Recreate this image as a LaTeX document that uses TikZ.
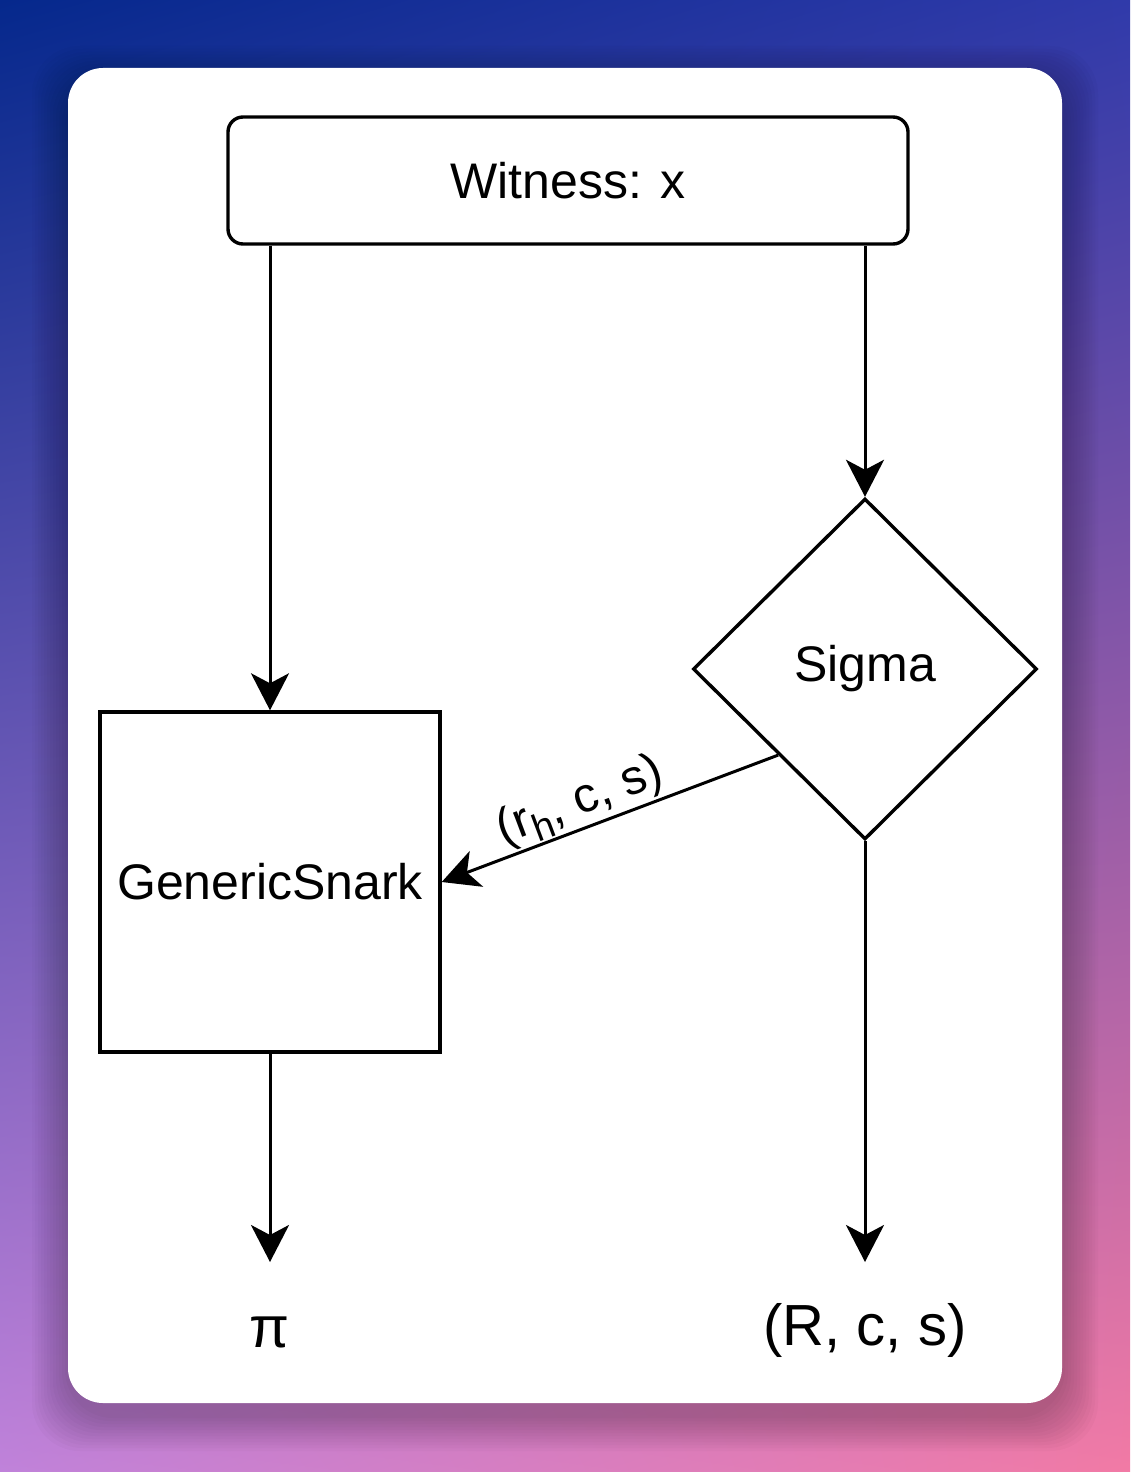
\documentclass[tikz,border=0pt]{standalone}
\usepackage{fontspec}
\setmainfont{Liberation Sans}
\usetikzlibrary{shapes.geometric,arrows.meta,calc,shadings}
\definecolor{bgTL}{RGB}{5,40,140}
\definecolor{bgTR}{RGB}{48,58,170}
\definecolor{bgBL}{RGB}{192,130,218}
\definecolor{bgBR}{RGB}{242,122,165}
\begin{document}
\begin{tikzpicture}[x=1pt,y=-1pt,
  box/.style={draw=black, line width=3.4pt, fill=white, inner sep=0pt},
  arr/.style={draw=black, line width=3pt, -{Stealth[length=37pt,width=38pt,inset=10pt]}},
  lbl/.style={font=\fontsize{50}{60}\selectfont},
  lblbig/.style={font=\fontsize{58}{68}\selectfont},
  lblsmall/.style={font=\fontsize{49}{56}\selectfont, inner sep=1pt}]
\useasboundingbox (0,0) rectangle (1130,1472);
\shade[upper left=bgTL, upper right=bgTR, lower left=bgBL, lower right=bgBR] (0,0) rectangle (1130,1472);
\foreach \e in {3,6,...,36}
  \fill[black, opacity=0.02, rounded corners=48pt] (68-\e,82-\e) rectangle (1062+\e,1415+\e);
\fill[white, rounded corners=35pt] (68,68) rectangle (1062,1403);
\node[box, rounded corners=15pt, minimum width=680pt, minimum height=127pt, lbl] (w) at (568,180.5) {Witness: x};
\node[box, minimum width=340pt, minimum height=340pt, lbl] (g) at (270,882) {GenericSnark};
\node[box, diamond, aspect=1, minimum width=344pt, minimum height=341pt, lbl] (d) at (865,669) {Sigma};
\node[lblbig] (pi) at (270,1332) {π};
\node[lblbig] (rcs) at (865,1330) {(R, c, s)};
\coordinate (pitip) at (270,1262);
\coordinate (rcstip) at (865,1262);
\draw[arr] (w.south -| g.north) -- (g.north);
\draw[arr] (w.south -| d.north) -- (d.north);
\draw[arr] ($(d.west)!0.5!(d.south)$) -- node[sloped, above, lblsmall, pos=0.56] {(r\raisebox{-11pt}{\fontsize{38}{40}\selectfont h}, c, s)} (g.east);
\draw[arr] (d.south) -- (rcstip);
\draw[arr] (g.south) -- (pitip);
\end{tikzpicture}
\end{document}
